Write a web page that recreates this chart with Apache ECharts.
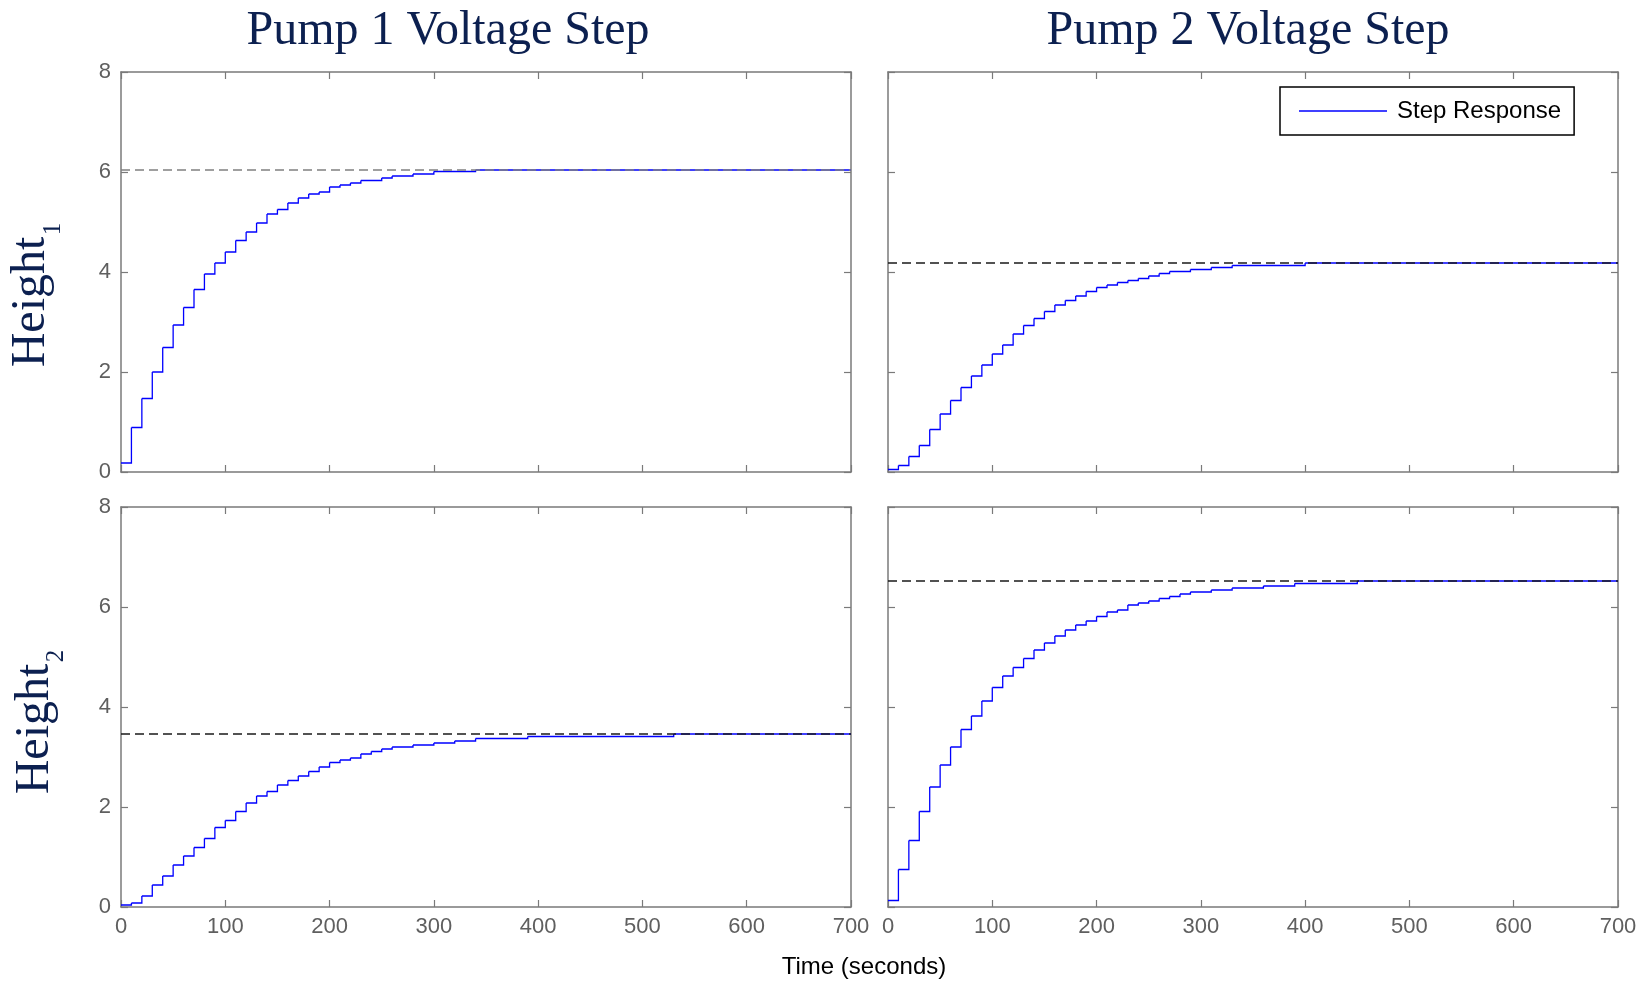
<!DOCTYPE html>
<html>
<head>
<meta charset="utf-8">
<title>Pump Voltage Step</title>
<script src="https://cdn.jsdelivr.net/npm/echarts@6/dist/echarts.min.js"></script>
<style>
  html, body { margin: 0; padding: 0; background: #fff; }
  #chart { width: 1648px; height: 981px; }
</style>
</head>
<body>
<div id="chart"></div>
<script>
// step responses: [time (s), height] at every change of the sampled output
const pump1Height1 = [
  [0, 0.18], [10, 0.89], [20, 1.47], [30, 2.00], [40, 2.49], [50, 2.94], [60, 3.29],
  [70, 3.65], [80, 3.96], [90, 4.18], [100, 4.40], [110, 4.63], [120, 4.80], [130, 4.98],
  [140, 5.16], [150, 5.25], [160, 5.38], [170, 5.48], [180, 5.56], [190, 5.60], [200, 5.70],
  [210, 5.74], [220, 5.78], [230, 5.83], [250, 5.88], [260, 5.92], [280, 5.96], [300, 6.01],
  [340, 6.04], [700, 6.04]
]
const pump2Height1 = [
  [0, 0.05], [10, 0.13], [20, 0.31], [30, 0.53], [40, 0.85], [50, 1.16], [60, 1.43],
  [70, 1.69], [80, 1.92], [90, 2.14], [100, 2.36], [110, 2.54], [120, 2.76], [130, 2.93],
  [140, 3.07], [150, 3.21], [160, 3.34], [170, 3.43], [180, 3.52], [190, 3.61], [200, 3.69],
  [210, 3.74], [220, 3.79], [230, 3.83], [240, 3.87], [250, 3.92], [260, 3.97], [270, 4.01],
  [290, 4.05], [310, 4.09], [330, 4.13], [400, 4.18], [700, 4.18]
]
const pump1Height2 = [
  [0, 0.04], [10, 0.08], [20, 0.22], [30, 0.44], [40, 0.62], [50, 0.84], [60, 1.02],
  [70, 1.19], [80, 1.37], [90, 1.59], [100, 1.73], [110, 1.91], [120, 2.08], [130, 2.22],
  [140, 2.31], [150, 2.44], [160, 2.53], [170, 2.62], [180, 2.71], [190, 2.80], [200, 2.89],
  [210, 2.94], [220, 2.98], [230, 3.06], [240, 3.11], [250, 3.16], [260, 3.20], [280, 3.24],
  [300, 3.28], [320, 3.32], [340, 3.37], [390, 3.41], [530, 3.46], [700, 3.46]
]
const pump2Height2 = [
  [0, 0.13], [10, 0.75], [20, 1.33], [30, 1.91], [40, 2.40], [50, 2.84], [60, 3.20],
  [70, 3.55], [80, 3.82], [90, 4.12], [100, 4.39], [110, 4.62], [120, 4.79], [130, 4.97],
  [140, 5.14], [150, 5.28], [160, 5.42], [170, 5.54], [180, 5.64], [190, 5.72], [200, 5.81],
  [210, 5.90], [220, 5.94], [230, 6.04], [240, 6.08], [250, 6.12], [260, 6.17], [270, 6.21],
  [280, 6.26], [290, 6.30], [310, 6.34], [330, 6.38], [360, 6.42], [390, 6.47], [450, 6.52],
  [700, 6.52]
]

// steady-state (dashed) levels, same order as the panels
const finalValues = [6.04, 4.18, 3.46, 6.52]

const columnTitles = ['Pump 1 Voltage Step', 'Pump 2 Voltage Step']
const rowTitles = ['Height', 'Height']
const rowSubscripts = ['1', '2']
const xLabel = 'Time (seconds)'
const timeRange = [0, 700, 100]
const heightRange = [0, 8, 2]

const responses = [pump1Height1, pump2Height1, pump1Height2, pump2Height2]

const axisColor = '#7a7a7a'
const labelColor = '#5f5f5f'
const navy = '#0c2050'
const blue = '#0000ff'

const chart = echarts.init(document.getElementById('chart'))

const grids = [
  { left: 121, top: 72, width: 730, height: 400 },
  { left: 888, top: 72, width: 730, height: 400 },
  { left: 121, top: 507, width: 730, height: 400 },
  { left: 888, top: 507, width: 730, height: 400 }
]

// each row = one stair: hold value from t to tNext, then jump to vNext
function toStairs(points) {
  const rows = []
  for (let k = 0; k < points.length - 1; k++) {
    rows.push([points[k][0], points[k][1], points[k + 1][0], points[k + 1][1]])
  }
  return rows
}

// custom series so tiny rises are not merged away by the line path simplifier
function renderStair(params, api) {
  const t0 = api.value(0)
  const v0 = api.value(1)
  const t1 = api.value(2)
  const v1 = api.value(3)
  return {
    type: 'polyline',
    shape: { points: [api.coord([t0, v0]), api.coord([t1, v0]), api.coord([t1, v1])] },
    style: { stroke: blue, lineWidth: 1.3, fill: null }
  }
}

const xAxes = []
const yAxes = []
const series = []

grids.forEach((g, i) => {
  const bottomRow = i >= 2
  const leftCol = i % 2 === 0
  // bottom + top x axes (box with ticks on all sides)
  ;['bottom', 'top'].forEach(pos => {
    xAxes.push({
      gridIndex: i,
      type: 'value',
      position: pos,
      min: timeRange[0],
      max: timeRange[1],
      interval: timeRange[2],
      axisLine: { show: true, onZero: false, lineStyle: { color: axisColor, width: 1.5 } },
      axisTick: { show: true, inside: true, length: 7, lineStyle: { color: axisColor, width: 1.2 } },
      axisLabel: {
        show: pos === 'bottom' && bottomRow,
        color: labelColor,
        fontFamily: 'Liberation Sans',
        fontSize: 22,
        margin: 9,
        showMinLabel: true,
        showMaxLabel: true
      },
      splitLine: { show: false }
    })
  })
  ;['left', 'right'].forEach(pos => {
    yAxes.push({
      gridIndex: i,
      type: 'value',
      position: pos,
      min: heightRange[0],
      max: heightRange[1],
      interval: heightRange[2],
      axisLine: { show: true, onZero: false, lineStyle: { color: axisColor, width: 1.5 } },
      axisTick: { show: true, inside: true, length: 7, lineStyle: { color: axisColor, width: 1.2 } },
      axisLabel: {
        show: pos === 'left' && leftCol,
        color: labelColor,
        fontFamily: 'Liberation Sans',
        fontSize: 22,
        margin: 10,
        showMinLabel: true,
        showMaxLabel: true
      },
      splitLine: { show: false }
    })
  })

  series.push({
    name: 'Step Response',
    type: 'custom',
    xAxisIndex: 2 * i,
    yAxisIndex: 2 * i,
    data: toStairs(responses[i]),
    encode: { x: [0, 2], y: [1, 3] },
    renderItem: renderStair,
    itemStyle: { color: blue },
    silent: true,
    z: 2
  })
  series.push({
    name: 'Final Value',
    type: 'line',
    xAxisIndex: 2 * i,
    yAxisIndex: 2 * i,
    symbol: 'none',
    silent: true,
    data: [[timeRange[0], finalValues[i]], [timeRange[1], finalValues[i]]],
    lineStyle: { color: i === 0 ? '#808080' : '#1a1a1a', width: 1.3, type: [9, 5] },
    z: 3
  })
})

const serif = 'Liberation Serif'
const graphics = [
  { type: 'text', x: 448, y: 31, style: { text: columnTitles[0], fontFamily: serif, fontSize: 48, fill: navy, align: 'center', verticalAlign: 'middle' } },
  { type: 'text', x: 1248, y: 31, style: { text: columnTitles[1], fontFamily: serif, fontSize: 48, fill: navy, align: 'center', verticalAlign: 'middle' } },
  // row labels with subscripts, rotated
  { type: 'text', x: 31, y: 302, rotation: Math.PI / 2, style: { text: rowTitles[0], fontFamily: serif, fontSize: 48, fill: navy, align: 'center', verticalAlign: 'middle' } },
  { type: 'text', x: 53, y: 229, rotation: Math.PI / 2, style: { text: rowSubscripts[0], fontFamily: serif, fontSize: 25, fill: navy, align: 'center', verticalAlign: 'middle' } },
  { type: 'text', x: 35, y: 729, rotation: Math.PI / 2, style: { text: rowTitles[1], fontFamily: serif, fontSize: 48, fill: navy, align: 'center', verticalAlign: 'middle' } },
  { type: 'text', x: 56, y: 656, rotation: Math.PI / 2, style: { text: rowSubscripts[1], fontFamily: serif, fontSize: 25, fill: navy, align: 'center', verticalAlign: 'middle' } },
  { type: 'text', x: 864, y: 967, style: { text: xLabel, fontFamily: 'Liberation Sans', fontSize: 24, fill: '#000', align: 'center', verticalAlign: 'middle' } }
]

chart.setOption({
  animation: false,
  backgroundColor: '#fff',
  grid: grids,
  xAxis: xAxes,
  yAxis: yAxes,
  legend: {
    data: ['Step Response'],
    left: 1280,
    top: 87,
    orient: 'horizontal',
    selectedMode: false,
    icon: 'rect',
    itemWidth: 88,
    itemHeight: 1.4,
    itemStyle: { color: blue },
    backgroundColor: '#fff',
    borderColor: '#000',
    borderWidth: 1.5,
    borderRadius: 0,
    padding: [12, 13, 12, 19],
    textStyle: { color: '#000', fontFamily: 'Liberation Sans', fontSize: 24, padding: [0, 0, 0, 5] }
  },
  graphic: graphics,
  series: series
})

window.addEventListener('resize', () => {
  chart.resize()
})
</script>
</body>
</html>
